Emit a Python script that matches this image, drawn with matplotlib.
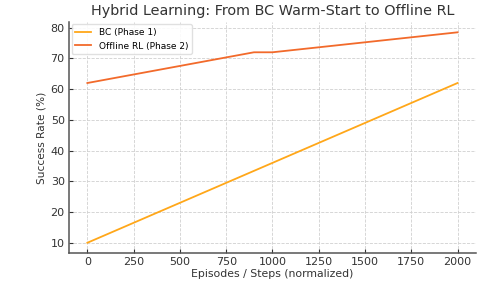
import numpy as np
import matplotlib
matplotlib.use("Agg")
import matplotlib.pyplot as plt

steps_bc = [0, 2000]
success_bc = [10, 62]
steps_rl = [0, 900, 1000, 2000]
success_rl = [62, 72, 72, 78.5]

fig, ax = plt.subplots(figsize=(4.99, 2.83), dpi=100)
ax.plot(steps_bc, success_bc, color="#FFA719", lw=1.3, label="BC (Phase 1)")
ax.plot(steps_rl, success_rl, color="#F26A2B", lw=1.3, label="Offline RL (Phase 2)")

ax.set_title("Hybrid Learning: From BC Warm-Start to Offline RL", fontsize=10.4, color="#333333", pad=5)
ax.set_xlabel("Episodes / Steps (normalized)", fontsize=7.8, color="#333333", labelpad=1)
ax.set_ylabel("Success Rate (%)", fontsize=7.6, color="#333333", labelpad=3)
ax.set_xticks(np.arange(0, 2001, 250))
ax.set_yticks(np.arange(10, 81, 10))
ax.tick_params(direction="in", labelsize=8, colors="#333333", length=3, pad=3)
ax.grid(True, linestyle="--", color="#d0d0d0", lw=0.6)
for s in ["top", "right"]:
    ax.spines[s].set_visible(False)
for s in ["left", "bottom"]:
    ax.spines[s].set_color("#555555")
    ax.spines[s].set_linewidth(1.1)
ax.legend(loc="upper left", fontsize=6.5, framealpha=0.9, edgecolor="#dddddd",
          handlelength=1.8, borderaxespad=0.3)

fig.subplots_adjust(left=0.138, right=0.954, top=0.923, bottom=0.105)
fig.savefig("out.png", dpi=100)
